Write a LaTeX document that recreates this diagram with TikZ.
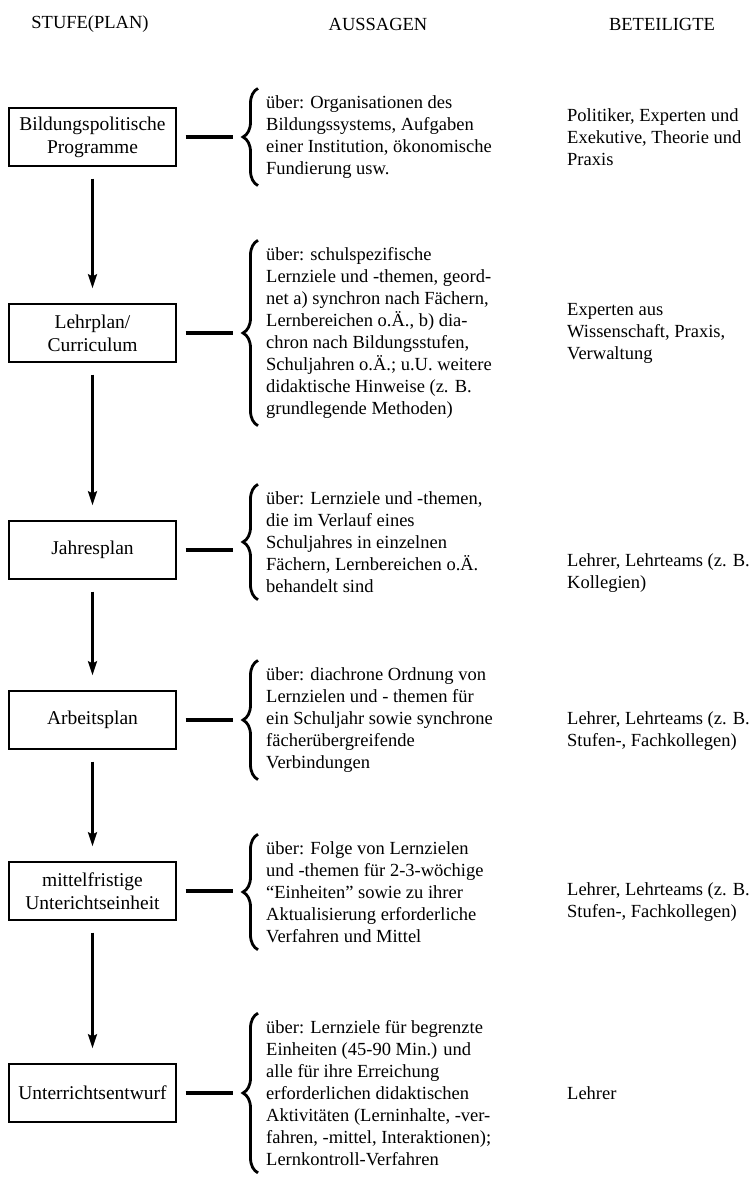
\documentclass[tikz,border=0pt]{standalone}
\usepackage{fontspec}
\setmainfont{Liberation Serif}
\usetikzlibrary{positioning,arrows.meta,decorations.pathreplacing}

\tikzset{
	stufe/.style={draw, line width=1.4pt, minimum width=167pt, minimum height=58pt, align=center, inner sep=2pt, font=\fontsize{19.5}{23}\selectfont},
	aussage/.style={anchor=west, align=left, inner sep=0pt},
	beteiligt/.style={anchor=west, align=left, inner sep=0pt},
	pfeil/.style={line width=2.4pt, -{Stealth[length=14pt, width=9pt, inset=2pt]}},
	verbinder/.style={line width=3.2pt},
	klammer/.style={line width=2.8pt, decorate, decoration={brace, amplitude=15pt}}
}

\begin{document}
\begin{tikzpicture}[x=1pt, y=-1pt, font=\fontsize{18.5}{22}\selectfont]
	\useasboundingbox (0, 0) rectangle (754, 1183);

	% Kopfzeile
	\node (h1) at (90, 24) {STUFE(PLAN)};
	\node (h2) at (378, 24) {AUSSAGEN};
	\node (h3) at (662, 24) {BETEILIGTE};

	% Stufen
	\node[stufe] (b1) at (92.5, 137) {Bildungspolitische\\Programme};
	\node[stufe] (b2) at (92.5, 333) {Lehrplan/\\Curriculum};
	\node[stufe] (b3) at (92.5, 550) {Jahresplan};
	\node[stufe] (b4) at (92.5, 720) {Arbeitsplan};
	\node[stufe] (b5) at (92.5, 891) {mittelfristige\\Unterichtseinheit};
	\node[stufe] (b6) at (92.5, 1093) {Unterrichtsentwurf};

	\draw[pfeil] ([yshift=-12pt]b1.south) -- ([yshift=15pt]b2.north);
	\draw[pfeil] ([yshift=-12pt]b2.south) -- ([yshift=15pt]b3.north);
	\draw[pfeil] ([yshift=-12pt]b3.south) -- ([yshift=15pt]b4.north);
	\draw[pfeil] ([yshift=-12pt]b4.south) -- ([yshift=15pt]b5.north);
	\draw[pfeil] ([yshift=-12pt]b5.south) -- ([yshift=15pt]b6.north);

	% Aussagen
	\node[aussage] (a1) at (266, 137) {über: Organisationen des\\Bildungssystems, Aufgaben\\einer Institution, ökonomische\\Fundierung usw.};
	\node[aussage] (a2) at (266, 333) {über: schulspezifische\\Lernziele und -themen, geord-\\net a) synchron nach Fächern,\\Lernbereichen o.Ä., b) dia-\\chron nach Bildungsstufen,\\Schuljahren o.Ä.; u.U. weitere\\didaktische Hinweise (z. B.\\grundlegende Methoden)};
	\node[aussage] (a3) at (266, 542) {über: Lernziele und -themen,\\die im Verlauf eines\\Schuljahres in einzelnen\\Fächern, Lernbereichen o.Ä.\\behandelt sind};
	\node[aussage] (a4) at (266, 720) {über: diachrone Ordnung von\\Lernzielen und - themen für\\ein Schuljahr sowie synchrone\\fächerübergreifende\\Verbindungen};
	\node[aussage] (a5) at (266, 892) {über: Folge von Lernzielen\\und -themen für 2-3-wöchige\\“Einheiten” sowie zu ihrer\\Aktualisierung erforderliche\\Verfahren und Mittel};
	\node[aussage] (a6) at (266, 1093) {über: Lernziele für begrenzte\\Einheiten (45-90 Min.) und\\alle für ihre Erreichung\\erforderlichen didaktischen\\Aktivitäten (Lerninhalte, -ver-\\fahren, -mittel, Interaktionen);\\Lernkontroll-Verfahren};

	\foreach \i in {1, ..., 6} {
		\draw[klammer] ([xshift=-8pt, yshift=-7pt]a\i.south west) -- ([xshift=-8pt, yshift=7pt]a\i.north west);
		\coordinate (k\i) at ([xshift=-33pt]a\i.west |- b\i.east);
		\draw[verbinder] ([xshift=9pt]b\i.east) -- (k\i);
	}

	% Beteiligte
	\node[beteiligt] (t1) at (567, 137) {Politiker, Experten und\\Exekutive, Theorie und\\Praxis};
	\node[beteiligt] (t2) at (567, 333) {Experten aus\\Wissenschaft, Praxis,\\Verwaltung};
	\node[beteiligt] (t3) at (567, 573) {Lehrer, Lehrteams (z. B.\\Kollegien)};
	\node[beteiligt] (t4) at (567, 731) {Lehrer, Lehrteams (z. B.\\Stufen-, Fachkollegen)};
	\node[beteiligt] (t5) at (567, 902) {Lehrer, Lehrteams (z. B.\\Stufen-, Fachkollegen)};
	\node[beteiligt] (t6) at (567, 1093) {Lehrer};
\end{tikzpicture}
\end{document}
